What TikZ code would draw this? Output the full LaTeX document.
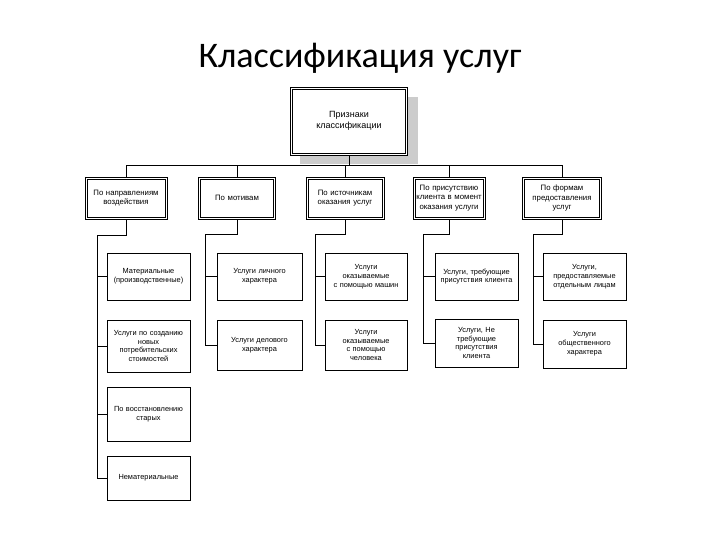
\documentclass[tikz,border=0pt]{standalone}
\usepackage{fontspec}
\setmainfont{Liberation Sans}
\newfontfamily\titlefont{Carlito}
\tikzset{
  pbox/.style={draw, line width=0.6pt, align=center, inner sep=2pt, font=\fontsize{7.8}{9.2}\selectfont},
  ubox/.style={draw, line width=0.6pt, align=center, inner sep=1pt, font=\fontsize{7.4}{8.8}\selectfont},
  link/.style={draw, line width=0.8pt}
}
\begin{document}
\begin{tikzpicture}[x=1pt, y=-1pt]
\useasboundingbox (0,0) rectangle (720,540);
\node[font=\titlefont\fontsize{36}{40}\selectfont] (t) at (360,58) {Классификация услуг};
% shadow of the top box
\fill[gray!40] (300,97) rectangle (418,164);
\node[pbox, fill=white, minimum width=117pt, minimum height=68pt, font=\fontsize{9}{11}\selectfont] (0) at (349,121) {Признаки\\классификации};
\node[pbox, text width=78pt, minimum height=42pt] (1) at (126,198) {По направлениям\\воздействия};
\node[pbox, text width=73pt, minimum height=42pt] (2) at (237,198) {По мотивам};
\node[pbox, text width=74pt, minimum height=42pt] (3) at (345,198) {По источникам\\оказания услуг};
\node[pbox, text width=68pt, minimum height=42pt] (4) at (449,198) {По присутствию\\клиента в момент\\оказания услуги};
\node[pbox, text width=75pt, minimum height=42pt] (5) at (562,198) {По формам\\предоставления\\услуг};
% inner lines of the double frames
\foreach \k in {0,...,5}
  \draw[line width=0.6pt] ([shift={(2.2pt,2.2pt)}]\k.south west) rectangle ([shift={(-2.2pt,-2.2pt)}]\k.north east);
\node[ubox, text width=81pt, minimum height=47pt] (11) at (148.5,276.5) {Материальные\\(производственные)};
\node[ubox, text width=81pt, minimum height=52pt] (12) at (148.5,346) {Услуги по созданию\\новых\\потребительских\\стоимостей};
\node[ubox, text width=81pt, minimum height=54pt] (13) at (148.5,414) {По восстановлению\\старых};
\node[ubox, text width=81pt, minimum height=44pt] (14) at (148.5,478) {Нематериальные};
\node[ubox, text width=83pt, minimum height=47pt] (21) at (259.5,276.5) {Услуги личного\\характера};
\node[ubox, text width=83pt, minimum height=50pt] (22) at (259.5,345) {Услуги делового\\характера};
\node[ubox, text width=80pt, minimum height=47pt] (31) at (366,276.5) {Услуги\\оказываемые\\с помощью машин};
\node[ubox, text width=80pt, minimum height=50pt] (32) at (366,345) {Услуги\\оказываемые\\с помощью\\человека};
\node[ubox, text width=81pt, minimum height=47pt] (41) at (476.5,276.5) {Услуги, требующие\\присутствия клиента};
\node[ubox, text width=81pt, minimum height=48pt] (42) at (476.5,343) {Услуги, Не\\требующие\\присутствия\\клиента};
\node[ubox, text width=81pt, minimum height=47pt] (51) at (584.5,276.5) {Услуги,\\предоставляемые\\отдельным лицам};
\node[ubox, text width=81pt, minimum height=48pt] (52) at (584.5,344) {Услуги\\общественного\\характера};
\coordinate (h) at (349,165);
\coordinate (s1) at (97,235);
\coordinate (s2) at (205,234);
\coordinate (s3) at (315,234);
\coordinate (s4) at (423,234);
\coordinate (s5) at (533,234);
\path[link] (0.south) -- (h);
\foreach \k in {1,...,5} {
  \path[link] (h) -| (\k.north);
  \path[link] (\k.south) |- (s\k);
}
\foreach \c in {11,12,13,14} \path[link] (s1) |- (\c.west);
\foreach \c in {21,22} \path[link] (s2) |- (\c.west);
\foreach \c in {31,32} \path[link] (s3) |- (\c.west);
\foreach \c in {41,42} \path[link] (s4) |- (\c.west);
\foreach \c in {51,52} \path[link] (s5) |- (\c.west);
\end{tikzpicture}
\end{document}
